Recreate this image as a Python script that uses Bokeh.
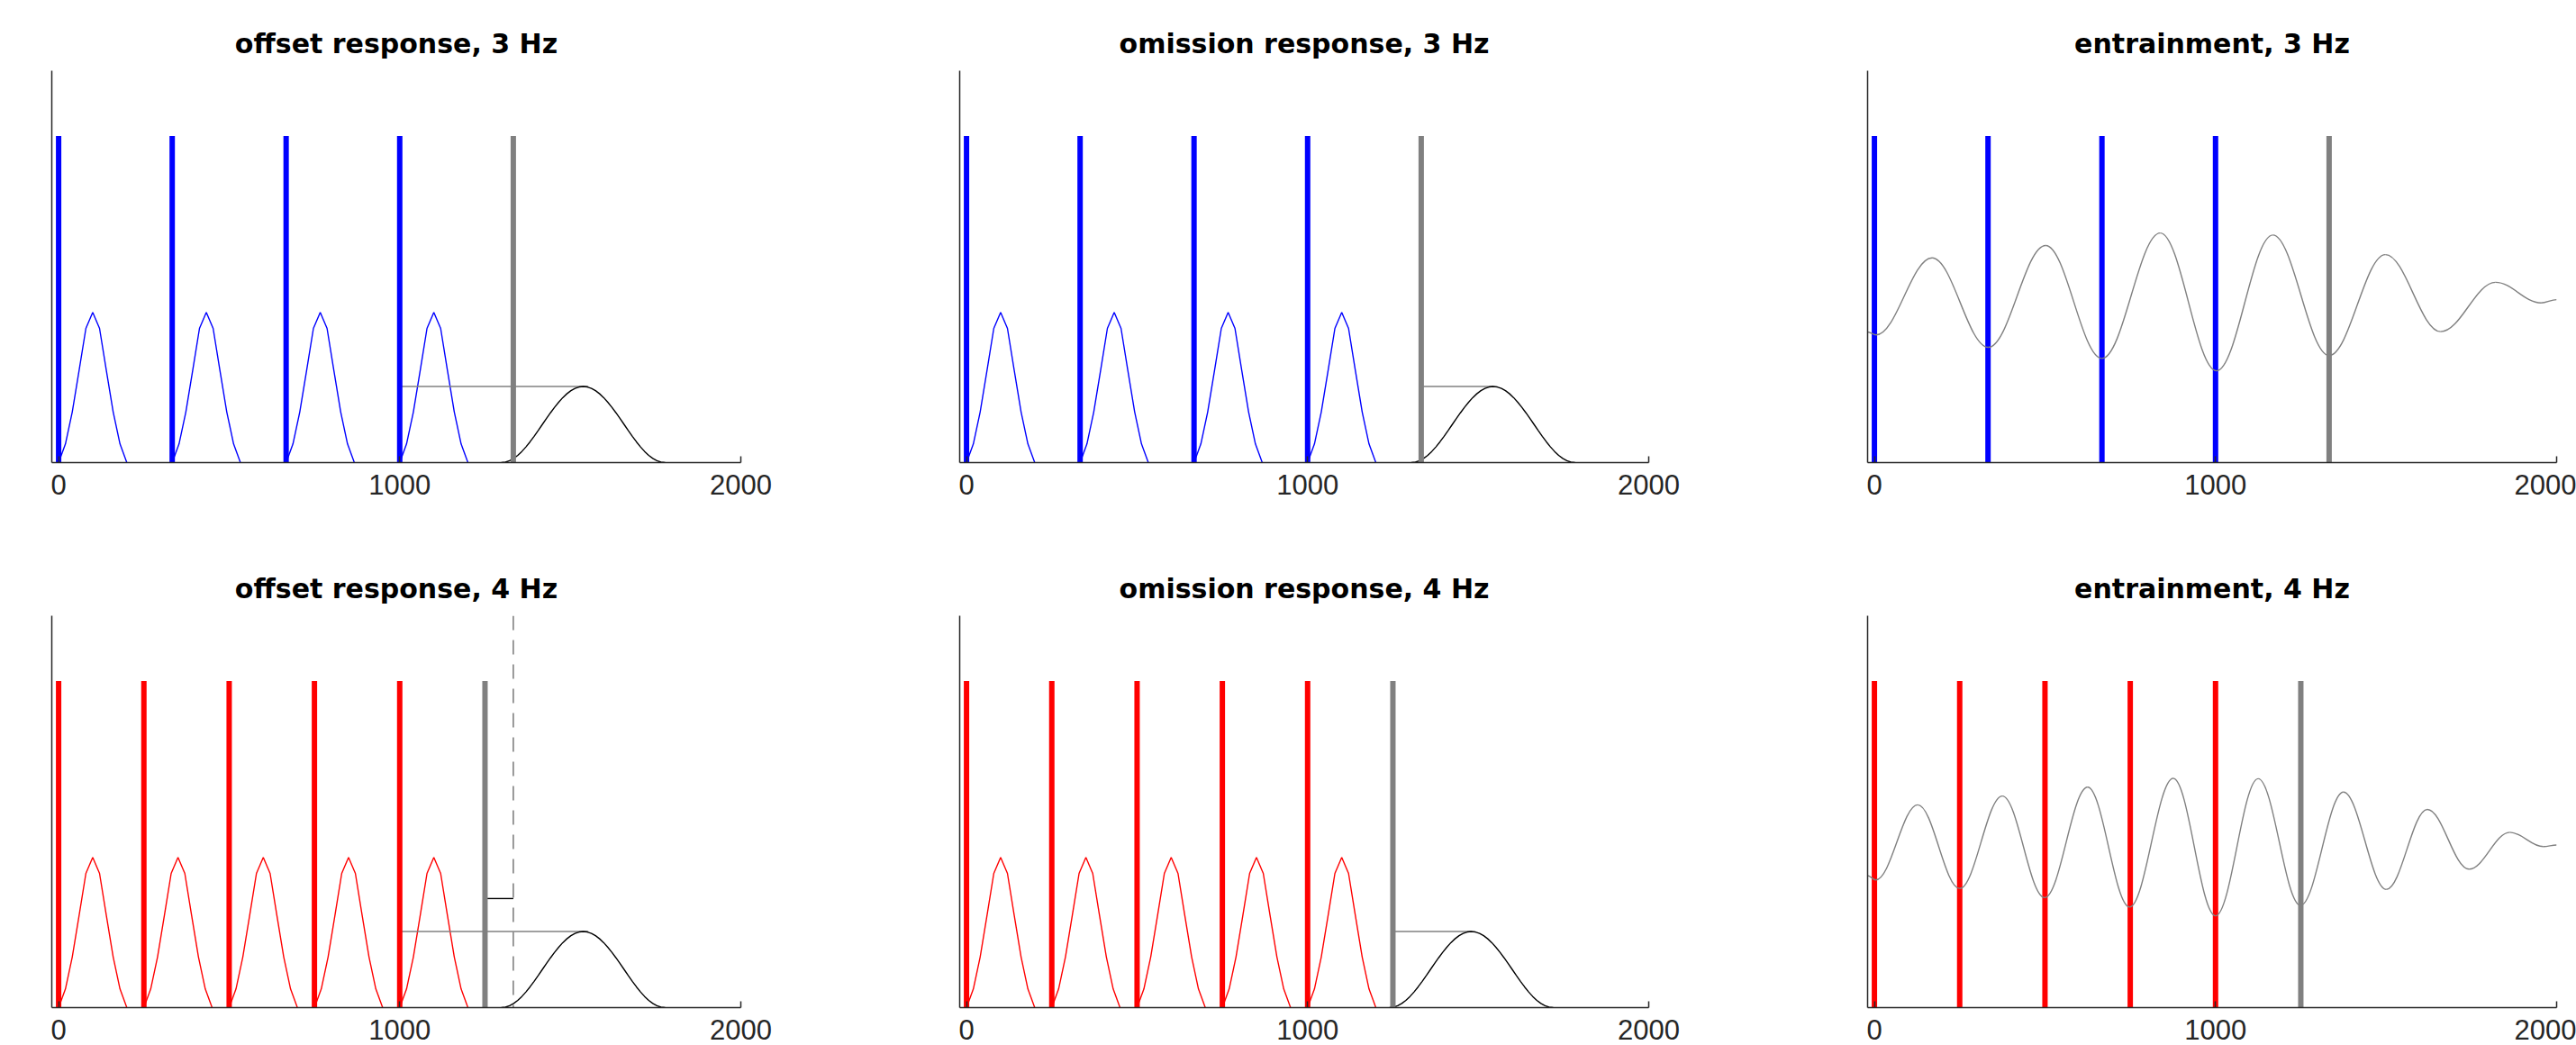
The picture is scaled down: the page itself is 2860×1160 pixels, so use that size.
from bokeh.plotting import figure
from bokeh.layouts import column, row
from bokeh.models import Range1d, FixedTicker
from bokeh.embed import file_html
from bokeh.resources import INLINE

# ---------------- data (ms / arbitrary amplitude) ----------------
x_limits = [-20, 2000]
y_limits = [0, 1.2]
x_ticks = [0, 1000, 2000]

tones_3hz = [0, 333, 667, 1000]
tones_4hz = [0, 250, 500, 750, 1000]
omitted_3hz = 1333
omitted_4hz = 1250
tone_height = 1.0

# evoked response to each tone (time after tone onset, amplitude)
bump_t = [0, 20, 40, 60, 80, 100, 120, 140, 160, 180, 200]
bump_y = [0.0, 0.057, 0.155, 0.282, 0.411, 0.460, 0.411, 0.282, 0.155, 0.057, 0.0]

# slow response shape (41 samples, 12 ms apart) and its start time per panel
slow_step = 12
slow_y = [0.0, 0.0014, 0.0057, 0.0127, 0.0222, 0.0341, 0.0480, 0.0636, 0.0805, 0.0983,
          0.1165, 0.1347, 0.1525, 0.1694, 0.1850, 0.1989, 0.2107, 0.2203, 0.2273, 0.2316,
          0.2330,
          0.2316, 0.2273, 0.2203, 0.2107, 0.1989, 0.1850, 0.1694, 0.1525, 0.1347, 0.1165,
          0.0983, 0.0805, 0.0636, 0.0480, 0.0341, 0.0222, 0.0127, 0.0057, 0.0014, 0.0]
slow_start_offset_3hz = 1298
slow_start_offset_4hz = 1298
slow_start_omission_3hz = 1304
slow_start_omission_4hz = 1240

# latency markers (horizontal grey line from -> to, at the peak height)
latency_offset_3hz = [1000, 1553]
latency_offset_4hz = [1000, 1553]
latency_omission_3hz = [1333, 1544]
latency_omission_4hz = [1250, 1480]
latency_level = 0.233

# 4 Hz offset panel: dashed expected-tone line and short black gap marker
expected_tone_4hz = 1333
gap_marker_4hz = [1250, 1333]
gap_marker_level = 0.334

# entrainment oscillation: extrema (time, amplitude)
ent3_t = [-20, 5, 169, 334, 502, 667, 838, 1003, 1168, 1333, 1498, 1660, 1821, 1954, 2000]
ent3_y = [0.400, 0.391, 0.627, 0.353, 0.665, 0.319, 0.703, 0.281, 0.697, 0.328, 0.637,
          0.401, 0.552, 0.489, 0.499]
ent4_t = [-20, 4, 127, 250, 375, 499, 625, 748, 876, 1000, 1125, 1249, 1375, 1501, 1621,
          1743, 1863, 1961, 2000]
ent4_y = [0.404, 0.391, 0.621, 0.365, 0.648, 0.337, 0.675, 0.308, 0.702, 0.281, 0.701,
          0.313, 0.660, 0.362, 0.607, 0.424, 0.537, 0.493, 0.498]

# ---------------- styles ----------------
BLUE = "#0000FF"
RED = "#FF0000"
GREY = "#808080"
AXIS = "#262626"
BAR_W = 6
THIN = 1.4

FRAME_W = 765
FRAME_H = 435
LEFT = 57
RIGHT = 186
RIGHT_LAST = 22


def make_fig(title, right, top, bottom):
    p = figure(frame_width=FRAME_W, frame_height=FRAME_H,
               x_range=Range1d(*x_limits), y_range=Range1d(*y_limits),
               output_backend="svg", toolbar_location=None,
               min_border_left=LEFT, min_border_right=right,
               min_border_top=top, min_border_bottom=bottom,
               title=title)
    p.outline_line_color = None
    p.xgrid.visible = False
    p.ygrid.visible = False
    p.background_fill_color = "white"
    p.border_fill_color = "white"

    p.title.text_font = "DejaVu Sans"
    p.title.text_font_style = "bold"
    p.title.text_font_size = "30px"
    p.title.text_color = "black"
    p.title.align = "center"
    p.title.standoff = 26

    xa = p.xaxis[0]
    xa.ticker = FixedTicker(ticks=x_ticks)
    xa.major_label_text_font = "Liberation Sans"
    xa.major_label_text_font_size = "31px"
    xa.major_label_text_color = AXIS
    xa.major_label_standoff = 13
    xa.major_tick_in = 7
    xa.major_tick_out = 0
    xa.minor_tick_line_color = None
    xa.major_tick_line_color = AXIS
    xa.major_tick_line_width = 1.5
    xa.axis_line_color = AXIS
    xa.axis_line_width = 1.5

    ya = p.yaxis[0]
    ya.ticker = FixedTicker(ticks=[])
    ya.minor_tick_line_color = None
    ya.major_tick_line_color = None
    ya.axis_line_color = AXIS
    ya.axis_line_width = 1.5
    return p


def add_tones(p, tones, color, omitted):
    p.segment(x0=tones, y0=[0] * len(tones), x1=tones, y1=[tone_height] * len(tones),
              line_color=color, line_width=BAR_W, line_cap="butt")
    p.segment(x0=[omitted], y0=[0], x1=[omitted], y1=[tone_height],
              line_color=GREY, line_width=BAR_W, line_cap="butt")


def add_bumps(p, tones, color):
    xs = [[t + b for b in bump_t] for t in tones]
    ys = [list(bump_y) for _ in tones]
    p.multi_line(xs=xs, ys=ys, line_color=color, line_width=THIN)


def add_slow(p, start, latency):
    xs = [start + i * slow_step for i in range(len(slow_y))]
    p.segment(x0=[latency[0]], y0=[latency_level], x1=[latency[1]], y1=[latency_level],
              line_color=GREY, line_width=THIN)
    p.line(xs, slow_y, line_color="black", line_width=THIN)


def add_entrainment(p, ts, ys):
    k = 0.3634
    x0, y0, x1, y1, cx0, cy0, cx1, cy1 = [], [], [], [], [], [], [], []
    for i in range(len(ts) - 1):
        a, b = ts[i], ts[i + 1]
        d = b - a
        x0.append(a); y0.append(ys[i]); x1.append(b); y1.append(ys[i + 1])
        cx0.append(a + k * d); cy0.append(ys[i])
        cx1.append(b - k * d); cy1.append(ys[i + 1])
    p.bezier(x0=x0, y0=y0, x1=x1, y1=y1, cx0=cx0, cy0=cy0, cx1=cx1, cy1=cy1,
             line_color=GREY, line_width=THIN)


TOP1, BOT1 = 78, 60
TOP2, BOT2 = 110, 42

# ---- row 1 : 3 Hz ----
f1 = make_fig("offset response, 3 Hz", RIGHT, TOP1, BOT1)
add_bumps(f1, tones_3hz, BLUE)
add_slow(f1, slow_start_offset_3hz, latency_offset_3hz)
add_tones(f1, tones_3hz, BLUE, omitted_3hz)

f2 = make_fig("omission response, 3 Hz", RIGHT, TOP1, BOT1)
add_bumps(f2, tones_3hz, BLUE)
add_slow(f2, slow_start_omission_3hz, latency_omission_3hz)
add_tones(f2, tones_3hz, BLUE, omitted_3hz)

f3 = make_fig("entrainment, 3 Hz", RIGHT_LAST, TOP1, BOT1)
add_tones(f3, tones_3hz, BLUE, omitted_3hz)
add_entrainment(f3, ent3_t, ent3_y)

# ---- row 2 : 4 Hz ----
f4 = make_fig("offset response, 4 Hz", RIGHT, TOP2, BOT2)
add_bumps(f4, tones_4hz, RED)
f4.segment(x0=[expected_tone_4hz], y0=[y_limits[1]], x1=[expected_tone_4hz], y1=[0],
           line_color=GREY, line_width=1.6, line_dash="16 11")
f4.segment(x0=[gap_marker_4hz[0]], y0=[gap_marker_level], x1=[gap_marker_4hz[1]],
           y1=[gap_marker_level], line_color="black", line_width=THIN)
add_slow(f4, slow_start_offset_4hz, latency_offset_4hz)
add_tones(f4, tones_4hz, RED, omitted_4hz)

f5 = make_fig("omission response, 4 Hz", RIGHT, TOP2, BOT2)
add_bumps(f5, tones_4hz, RED)
add_slow(f5, slow_start_omission_4hz, latency_omission_4hz)
add_tones(f5, tones_4hz, RED, omitted_4hz)

f6 = make_fig("entrainment, 4 Hz", RIGHT_LAST, TOP2, BOT2)
add_tones(f6, tones_4hz, RED, omitted_4hz)
add_entrainment(f6, ent4_t, ent4_y)

layout = column(row(f1, f2, f3), row(f4, f5, f6))

with open("out.html", "w") as fh:
    fh.write(file_html(layout, INLINE))
